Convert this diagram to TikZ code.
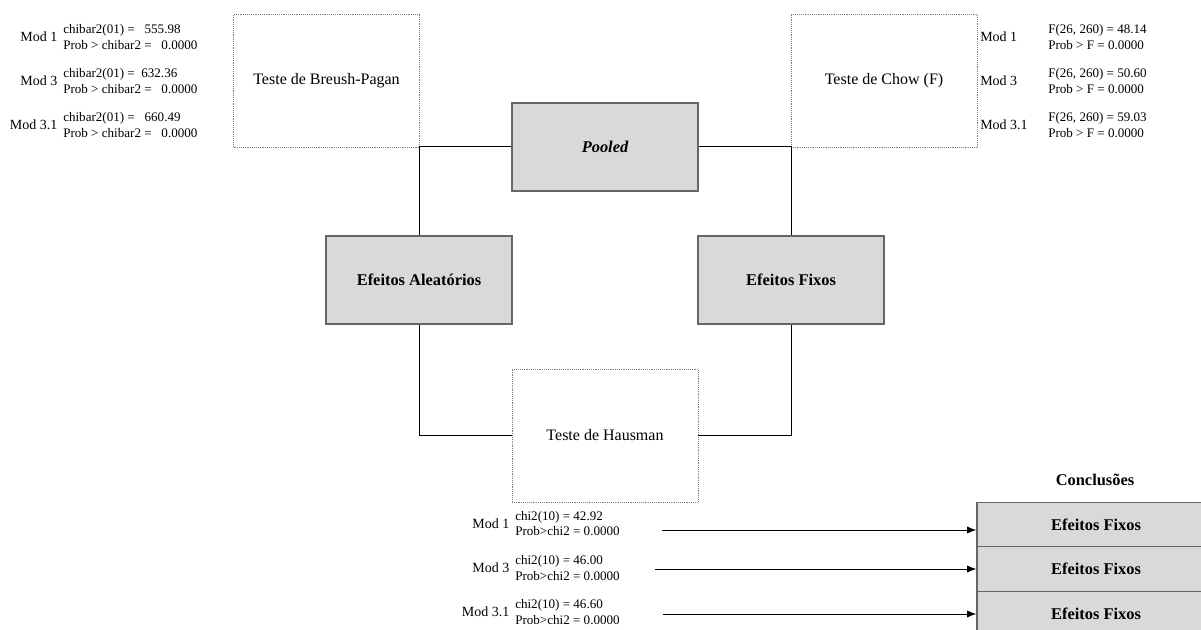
\documentclass[tikz,border=0pt]{standalone}
\usepackage{fontspec}
\setmainfont{Liberation Serif}
\usetikzlibrary{arrows.meta, positioning}

\begin{document}
\begin{tikzpicture}[x=0.75pt, y=-0.75pt, font=\fontsize{12}{14}\selectfont,
    model/.style={draw=black!60, line width=1.1pt, fill=black!15, minimum width=139.5pt, minimum height=66pt, font=\fontsize{12.3}{14}\selectfont\bfseries},
    teste/.style={draw=black!50, densely dotted, minimum width=139.5pt, minimum height=99.75pt},
    conc/.style={draw=black!60, line width=1pt, fill=black!15, minimum width=178.5pt, minimum height=33.4pt, font=\fontsize{12.3}{14}\selectfont\bfseries},
    stat/.style={align=left, inner sep=0pt, font=\fontsize{9.8}{11.5}\selectfont},
    modlab/.style={inner sep=0pt, font=\fontsize{10.5}{12}\selectfont},
    link/.style={line width=0.75pt}]
    \useasboundingbox (0,0) rectangle (1201,630);

    % testes
    \node[teste] (bp) at (326.5,80.5) {Teste de Breush-Pagan};
    \node[teste] (chow) at (884,80.5) {Teste de Chow (F)};
    \node[teste] (haus) at (605,435.5) {Teste de Hausman};

    % modelos
    \node[model, font=\fontsize{12.3}{14}\selectfont\bfseries\itshape] (pooled) at (605,147) {Pooled};
    \node[model] (aleat) at (419,280) {Efeitos Aleatórios};
    \node[model] (fixos) at (791,280) {Efeitos Fixos};

    \draw[link] (pooled.west) -| (aleat.north);
    \draw[link] (pooled.east) -| (fixos.north);
    \draw[link] (aleat.south) |- (haus.west);
    \draw[link] (fixos.south) |- (haus.east);

    % Breusch-Pagan
    \node[stat, anchor=west] (bp1) at (63,37) {chibar2(01) = \ \ 555.98\\Prob > chibar2 = \ \ 0.0000};
    \node[stat, anchor=west] (bp3) at (63,81) {chibar2(01) = \ 632.36\\Prob > chibar2 = \ \ 0.0000};
    \node[stat, anchor=west] (bp31) at (63,125) {chibar2(01) = \ \ 660.49\\Prob > chibar2 = \ \ 0.0000};
    \node[modlab, left=4pt of bp1] (bpm1) {Mod 1};
    \node[modlab, left=4pt of bp3] (bpm3) {Mod 3};
    \node[modlab, left=4pt of bp31] (bpm31) {Mod 3.1};

    % Chow
    \node[modlab, anchor=west] (chm1) at (980,37) {Mod 1};
    \node[modlab, anchor=west] (chm3) at (980,81) {Mod 3};
    \node[modlab, anchor=west] (chm31) at (980,125) {Mod 3.1};
    \node[stat, anchor=west] (ch1) at (1048,37) {F(26, 260) = 48.14\\Prob > F = 0.0000};
    \node[stat, anchor=west] (ch3) at (1048,81) {F(26, 260) = 50.60\\Prob > F = 0.0000};
    \node[stat, anchor=west] (ch31) at (1048,125) {F(26, 260) = 59.03\\Prob > F = 0.0000};

    % Hausman
    \node[stat, anchor=west] (hs1) at (515,523.5) {chi2(10) = 42.92\\Prob>chi2 = 0.0000};
    \node[stat, anchor=west] (hs3) at (515,568) {chi2(10) = 46.00\\Prob>chi2 = 0.0000};
    \node[stat, anchor=west] (hs31) at (515,612) {chi2(10) = 46.60\\Prob>chi2 = 0.0000};
    \node[modlab, left=4pt of hs1] (hsm1) {Mod 1};
    \node[modlab, left=4pt of hs3] (hsm3) {Mod 3};
    \node[modlab, left=4pt of hs31] (hsm31) {Mod 3.1};

    % conclusoes
    \node[font=\fontsize{12.3}{14}\selectfont\bfseries] (conctit) at (1095,480) {Conclusões};
    \node[conc] (c1) at (1096,524.5) {Efeitos Fixos};
    \node[conc] (c2) at (1096,569) {Efeitos Fixos};
    \node[conc] (c3) at (1096,613.5) {Efeitos Fixos};

    \coordinate (a1) at (662,530);
    \coordinate (a3) at (655,569);
    \coordinate (a31) at (663,614);
    \draw[link, -{Latex[length=7pt, width=5.5pt]}] (a1) -- (a1 -| c1.west);
    \draw[link, -{Latex[length=7pt, width=5.5pt]}] (a3) -- (a3 -| c2.west);
    \draw[link, -{Latex[length=7pt, width=5.5pt]}] (a31) -- (a31 -| c3.west);
\end{tikzpicture}
\end{document}
